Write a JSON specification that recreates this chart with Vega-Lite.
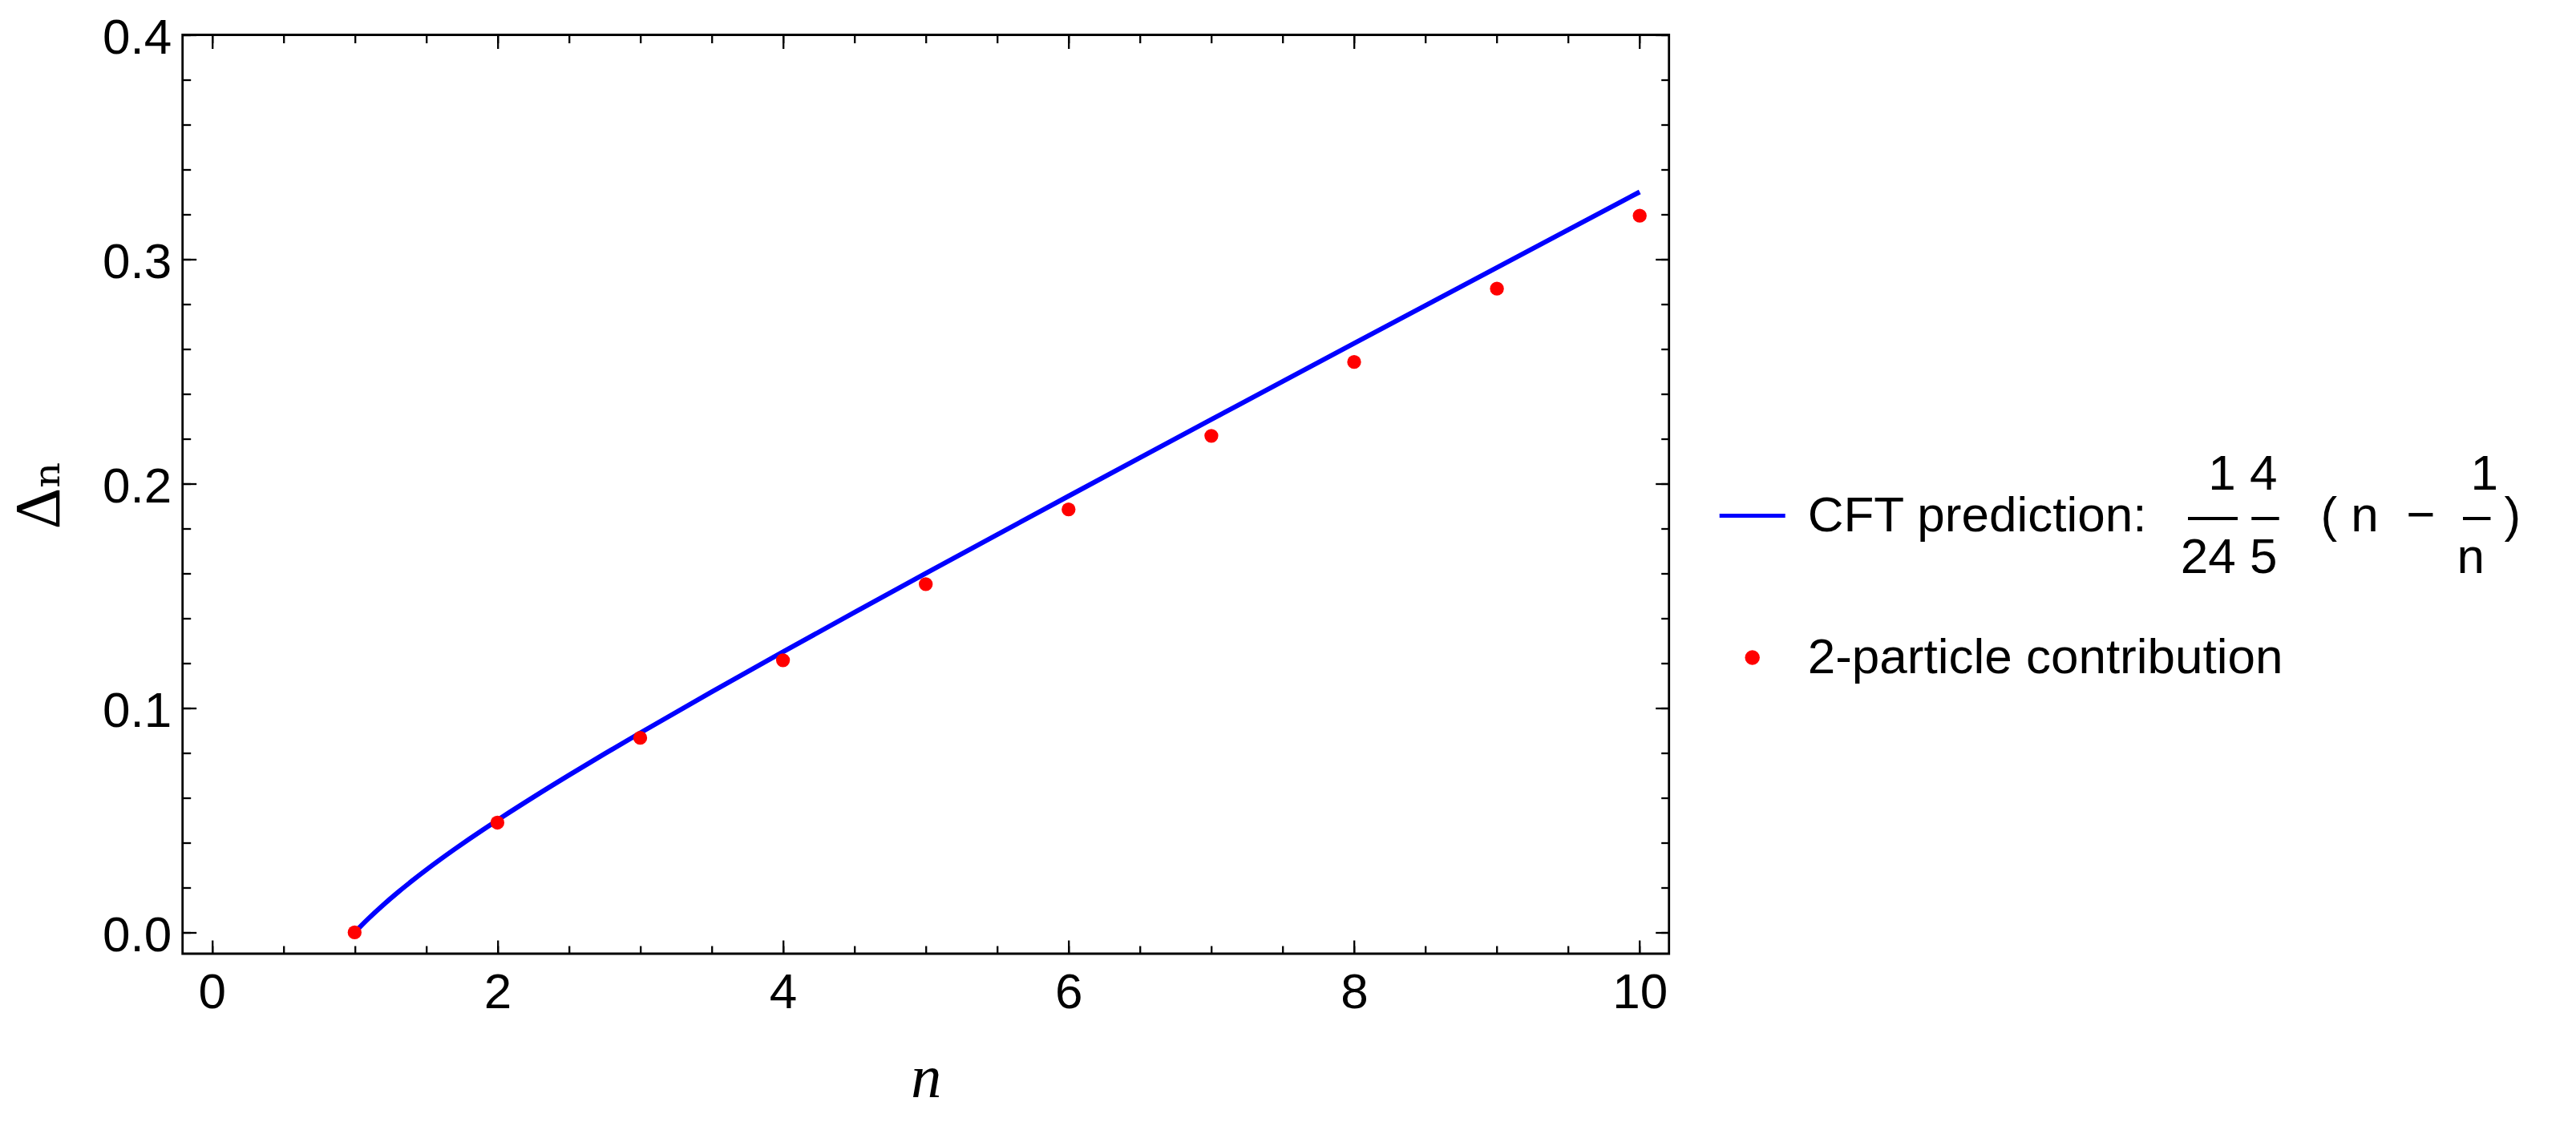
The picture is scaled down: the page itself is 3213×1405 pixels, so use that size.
{
  "$schema": "https://vega.github.io/schema/vega-lite/v6.json",
  "width": 1854,
  "height": 1146.5,
  "autosize": {"type": "none"},
  "padding": {"left": 227.7, "top": 43.5, "right": 1131.3, "bottom": 215},
  "background": "white",
  "config": {
    "view": {"stroke": "black", "strokeWidth": 2.8},
    "axis": {
      "grid": false,
      "domain": false,
      "tickColor": "black",
      "tickWidth": 2.3,
      "labelFont": "Liberation Sans",
      "labelFontSize": 62,
      "labelColor": "black",
      "labelOverlap": false,
      "labelFlush": false,
      "labelBound": false,
      "titleColor": "black",
      "titleFontWeight": "normal"
    }
  },
  "datasets": {
    "curve": [
      {"n": 1, "delta": 0, "series": "CFT prediction:"},
      {"n": 1.05, "delta": 0.003254, "series": "CFT prediction:"},
      {"n": 1.1, "delta": 0.006364, "series": "CFT prediction:"},
      {"n": 1.2, "delta": 0.012222, "series": "CFT prediction:"},
      {"n": 1.3, "delta": 0.017692, "series": "CFT prediction:"},
      {"n": 1.4, "delta": 0.022857, "series": "CFT prediction:"},
      {"n": 1.5, "delta": 0.027778, "series": "CFT prediction:"},
      {"n": 1.6, "delta": 0.0325, "series": "CFT prediction:"},
      {"n": 1.7, "delta": 0.037059, "series": "CFT prediction:"},
      {"n": 1.8, "delta": 0.041481, "series": "CFT prediction:"},
      {"n": 1.9, "delta": 0.045789, "series": "CFT prediction:"},
      {"n": 2, "delta": 0.05, "series": "CFT prediction:"},
      {"n": 2.25, "delta": 0.060185, "series": "CFT prediction:"},
      {"n": 2.5, "delta": 0.07, "series": "CFT prediction:"},
      {"n": 2.75, "delta": 0.079545, "series": "CFT prediction:"},
      {"n": 3, "delta": 0.088889, "series": "CFT prediction:"},
      {"n": 3.5, "delta": 0.107143, "series": "CFT prediction:"},
      {"n": 4, "delta": 0.125, "series": "CFT prediction:"},
      {"n": 4.5, "delta": 0.142593, "series": "CFT prediction:"},
      {"n": 5, "delta": 0.16, "series": "CFT prediction:"},
      {"n": 5.5, "delta": 0.177273, "series": "CFT prediction:"},
      {"n": 6, "delta": 0.194444, "series": "CFT prediction:"},
      {"n": 6.5, "delta": 0.211538, "series": "CFT prediction:"},
      {"n": 7, "delta": 0.228571, "series": "CFT prediction:"},
      {"n": 7.5, "delta": 0.245556, "series": "CFT prediction:"},
      {"n": 8, "delta": 0.2625, "series": "CFT prediction:"},
      {"n": 8.5, "delta": 0.279412, "series": "CFT prediction:"},
      {"n": 9, "delta": 0.296296, "series": "CFT prediction:"},
      {"n": 9.5, "delta": 0.313158, "series": "CFT prediction:"},
      {"n": 10, "delta": 0.33, "series": "CFT prediction:"}
    ],
    "points": [
      {"n": 1, "delta": 0.0, "series": "2-particle contribution"},
      {"n": 2, "delta": 0.0489, "series": "2-particle contribution"},
      {"n": 3, "delta": 0.0867, "series": "2-particle contribution"},
      {"n": 4, "delta": 0.1213, "series": "2-particle contribution"},
      {"n": 5, "delta": 0.1552, "series": "2-particle contribution"},
      {"n": 6, "delta": 0.1885, "series": "2-particle contribution"},
      {"n": 7, "delta": 0.2213, "series": "2-particle contribution"},
      {"n": 8, "delta": 0.2542, "series": "2-particle contribution"},
      {"n": 9, "delta": 0.2869, "series": "2-particle contribution"},
      {"n": 10, "delta": 0.3194, "series": "2-particle contribution"}
    ]
  },
  "layer": [
    {
      "data": {"name": "curve"},
      "mark": {"type": "line", "strokeWidth": 6, "interpolate": "monotone"},
      "encoding": {
        "x": {
          "field": "n",
          "type": "quantitative",
          "scale": {"domain": [-0.205, 10.205], "nice": false, "zero": false},
          "axis": {
            "orient": "bottom",
            "values": [0, 0.5, 1, 1.5, 2, 2.5, 3, 3.5, 4, 4.5, 5, 5.5, 6, 6.5, 7, 7.5, 8, 8.5, 9, 9.5, 10],
            "tickSize": -10,
            "labelExpr": "datum.value % 2 === 0 ? format(datum.value, 'd') : ''",
            "labelPadding": 28.5,
            "title": "n",
            "titleFont": "Liberation Serif",
            "titleFontStyle": "italic",
            "titleFontSize": 76,
            "titleY": 118
          }
        },
        "y": {
          "field": "delta",
          "type": "quantitative",
          "scale": {"domain": [-0.0095, 0.4], "nice": false, "zero": false},
          "axis": {
            "orient": "left",
            "values": [0, 0.02, 0.04, 0.06, 0.08, 0.1, 0.12, 0.14, 0.16, 0.18, 0.2, 0.22, 0.24, 0.26, 0.28, 0.3, 0.32, 0.34, 0.36, 0.38, 0.4],
            "tickSize": -10,
            "format": ".1f",
            "labelExpr": "abs(datum.value*10 - round(datum.value*10)) < 0.001 ? datum.label : ''",
            "labelPadding": 24,
            "labelOffset": 4,
            "title": "Δₙ",
            "titleFont": "Liberation Serif, DejaVu Serif",
            "titleFontSize": 80,
            "titleX": -137
          }
        },
        "color": {
          "field": "series",
          "type": "nominal",
          "scale": {"domain": ["CFT prediction:", "2-particle contribution"], "range": ["#0000ff", "#ff0000"]},
          "legend": {
            "orient": "none",
            "legendX": 1927,
            "legendY": 569,
            "title": null,
            "padding": 0,
            "symbolSize": 6724,
            "symbolStrokeWidth": 5,
            "labelFont": "Liberation Sans",
            "labelFontSize": 62,
            "labelColor": "black",
            "labelLimit": 3000,
            "labelOffset": 38,
            "rowPadding": 63,
            "labelExpr": "datum.value === 'CFT prediction:' ? ['\u200b\u00a0\u00a0\u00a0\u00a0\u00a0\u00a0\u00a0\u00a0\u00a0\u00a0\u00a0\u00a0\u00a0\u00a0\u00a0\u00a0\u00a0\u00a0\u00a0\u00a0\u00a0\u00a0\u00a0\u00a0\u00a0\u00a0\u00a0\u00a0\u00a01\u00a04\u00a0\u00a0\u00a0\u00a0\u00a0\u00a0\u00a0\u00a0\u00a0\u00a0\u00a0\u00a0\u00a0\u00a01', 'CFT prediction:\u00a0\u00a0\u00a0—\u00a0–\u00a0\u00a0\u00a0(\u00a0n\u00a0\u00a0−\u00a0\u00a0–\u00a0)', '\u200b\u00a0\u00a0\u00a0\u00a0\u00a0\u00a0\u00a0\u00a0\u00a0\u00a0\u00a0\u00a0\u00a0\u00a0\u00a0\u00a0\u00a0\u00a0\u00a0\u00a0\u00a0\u00a0\u00a0\u00a0\u00a0\u00a0\u00a024\u00a05\u00a0\u00a0\u00a0\u00a0\u00a0\u00a0\u00a0\u00a0\u00a0\u00a0\u00a0\u00a0\u00a0n'] : datum.label",
            "encode": {
              "symbols": {
                "update": {
                  "shape": {"signal": "datum.value === 'CFT prediction:' ? 'stroke' : 'circle'"},
                  "size": {"signal": "datum.value === 'CFT prediction:' ? 6724 : 340"},
                  "strokeWidth": {"signal": "datum.value === 'CFT prediction:' ? 5 : 0"},
                  "stroke": {"signal": "datum.value === 'CFT prediction:' ? '#0000ff' : 'transparent'"},
                  "fill": {"signal": "datum.value === 'CFT prediction:' ? 'transparent' : '#ff0000'"},
                  "opacity": {"value": 1}
                }
              },
              "labels": {
                "update": {
                  "lineHeight": {"value": 52},
                  "dy": {"signal": "datum.value === 'CFT prediction:' ? -52 : 0"}
                }
              }
            }
          }
        }
      }
    },
    {
      "data": {"name": "points"},
      "mark": {"type": "point", "filled": true, "shape": "circle", "size": 300, "opacity": 1},
      "encoding": {
        "x": {
          "field": "n",
          "type": "quantitative",
          "scale": {"domain": [-0.205, 10.205], "nice": false, "zero": false},
          "axis": {
            "orient": "top",
            "values": [0, 0.5, 1, 1.5, 2, 2.5, 3, 3.5, 4, 4.5, 5, 5.5, 6, 6.5, 7, 7.5, 8, 8.5, 9, 9.5, 10],
            "tickSize": -10,
            "labels": false,
            "title": null
          }
        },
        "y": {
          "field": "delta",
          "type": "quantitative",
          "scale": {"domain": [-0.0095, 0.4], "nice": false, "zero": false},
          "axis": {
            "orient": "right",
            "values": [0, 0.02, 0.04, 0.06, 0.08, 0.1, 0.12, 0.14, 0.16, 0.18, 0.2, 0.22, 0.24, 0.26, 0.28, 0.3, 0.32, 0.34, 0.36, 0.38, 0.4],
            "tickSize": -10,
            "labels": false,
            "title": null
          }
        },
        "color": {"field": "series", "type": "nominal"}
      }
    },
    {
      "data": {"name": "points"},
      "mark": {"type": "point", "opacity": 0},
      "encoding": {
        "x": {
          "field": "n",
          "type": "quantitative",
          "scale": {"domain": [-0.205, 10.205], "nice": false, "zero": false},
          "axis": {"orient": "bottom", "values": [0, 2, 4, 6, 8, 10], "tickSize": -17, "labels": false, "title": null}
        },
        "y": {
          "field": "delta",
          "type": "quantitative",
          "scale": {"domain": [-0.0095, 0.4], "nice": false, "zero": false},
          "axis": {"orient": "left", "values": [0, 0.1, 0.2, 0.3, 0.4], "tickSize": -17, "labels": false, "title": null}
        }
      }
    },
    {
      "data": {"name": "points"},
      "mark": {"type": "point", "opacity": 0},
      "encoding": {
        "x": {
          "field": "n",
          "type": "quantitative",
          "scale": {"domain": [-0.205, 10.205], "nice": false, "zero": false},
          "axis": {"orient": "top", "values": [0, 2, 4, 6, 8, 10], "tickSize": -17, "labels": false, "title": null}
        },
        "y": {
          "field": "delta",
          "type": "quantitative",
          "scale": {"domain": [-0.0095, 0.4], "nice": false, "zero": false},
          "axis": {"orient": "right", "values": [0, 0.1, 0.2, 0.3, 0.4], "tickSize": -17, "labels": false, "title": null}
        }
      }
    }
  ],
  "resolve": {"axis": {"x": "independent", "y": "independent"}}
}
